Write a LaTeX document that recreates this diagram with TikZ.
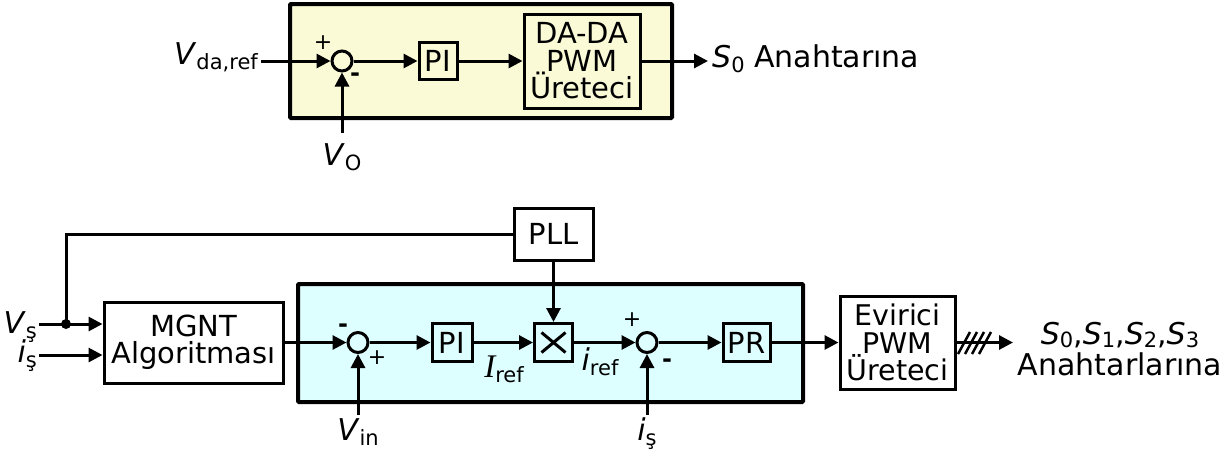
\documentclass[tikz,border=0pt]{standalone}
\usepackage{fontspec}
\setmainfont{DejaVu Sans}
\newfontfamily\seriffam{Liberation Serif}
\usetikzlibrary{arrows.meta,calc}
\definecolor{yel}{RGB}{250,250,215}
\definecolor{cyn}{RGB}{222,255,255}
\newcommand\myfs[1]{\fontsize{#1}{#1}\selectfont}
\newcommand\lowsub[1]{\raisebox{-5pt}{\myfs{21}#1}}
\newcommand\lowsubs[1]{\raisebox{-3pt}{\myfs{21}#1}}
\begin{document}
\begin{tikzpicture}[x=1pt,y=-1pt,
 arr/.style={line width=3pt,-{Triangle[length=14pt,width=14pt]}},
 ln/.style={line width=3pt},
 blk/.style={draw,line width=3pt,inner sep=0pt,align=center},
 cont/.style={draw,line width=4pt,rounded corners=1pt,inner sep=0pt},
 sumc/.style={draw,circle,line width=3pt,minimum size=20pt,inner sep=0pt},
 txt/.style={inner sep=0pt,font=\myfs{30}},
 sgn/.style={inner sep=0pt,font=\myfs{22}},
 mns/.style={inner sep=0pt,font=\myfs{24}\bfseries}]
\useasboundingbox (0,0) rectangle (1229,456);

% ---------- top loop ----------
\node[cont,fill=yel,minimum width=382pt,minimum height=114pt] (ybox) at (481,61) {};
\node[sumc] (s1) at (342,61) {};
\node[blk,minimum width=38pt,minimum height=37pt,font=\myfs{29}] (pi1) at (438,61) {PI};
\node[blk,minimum width=116pt,minimum height=94pt,font=\fontsize{29}{27.5}\selectfont] (dada) at (582,61) {DA-DA\\PWM\\Üreteci};
\node[txt,anchor=base east] (vda) at (258,64) {\textit{V}\lowsub{da,ref}};
\node[sgn] (p1) at (323,43) {+};
\node[mns] (m1) at (355,77) {-};
\node[txt,anchor=base] (vo) at (342,165) {\textit{V}\lowsub{O}};
\coordinate (votop) at (342,133);
\node[txt,anchor=base west] (s0) at (712,67) {\textit{S}\lowsub{0} Anahtarına};
\coordinate (s0tip) at (708,61);

\draw[arr] ([xshift=3pt]vda.east |- s1) -- (s1.west);
\draw[arr] (votop) -- (s1.south);
\draw[arr] (s1) -- (pi1);
\draw[arr] (pi1) -- (dada);
\draw[arr] (dada.east) -- (s0tip);

% ---------- bottom loop ----------
\node[cont,fill=cyn,minimum width=505pt,minimum height=118pt] (cbox) at (550.5,343) {};
\node[blk,fill=white,minimum width=79pt,minimum height=52pt,font=\myfs{29}] (pll) at (553.5,234) {PLL};
\node[blk,fill=white,minimum width=179pt,minimum height=81pt,font=\fontsize{29}{27}\selectfont] (mgnt) at (193.5,342.5) {MGNT\\Algoritması};
\node[sumc] (s2) at (358,342.5) {};
\node[blk,minimum width=40pt,minimum height=38pt,font=\myfs{29}] (pi2) at (452,342.5) {PI};
\node[blk,minimum width=38pt,minimum height=38pt,
  path picture={\draw[line width=3pt]
    ([shift={(7pt,-9pt)}]path picture bounding box.north west) --
    ([shift={(-7pt,9pt)}]path picture bounding box.south east)
    ([shift={(-7pt,-9pt)}]path picture bounding box.north east) --
    ([shift={(7pt,9pt)}]path picture bounding box.south west);}] (mul) at (553.5,342.5) {};
\node[sumc] (s3) at (647,342.5) {};
\node[blk,minimum width=47pt,minimum height=38pt,font=\myfs{29}] (pr) at (746.5,342.5) {PR};
\node[blk,fill=white,minimum width=115pt,minimum height=93pt,font=\fontsize{28.5}{27.5}\selectfont] (evr) at (897.5,342.5) {Evirici\\PWM\\Üreteci};

\node[txt,anchor=base east] (vs) at (37,333) {\textit{V}\lowsub{ş}};
\node[txt,anchor=base east] (is) at (37,362) {\textit{i}\lowsub{ş}};
\coordinate (vsin) at (39,324);
\coordinate (isin) at (39,355);
\coordinate (jn) at (66,324);

\node[mns] (m2) at (343,328) {-};
\node[sgn] (p2) at (377,358) {+};
\node[sgn] (p3) at (632,320) {+};
\node[mns] (m3) at (667,363) {-};

\node[txt,anchor=base] (Iref) at (504,377) {{\seriffam\itshape\fontsize{33}{33}\selectfont I}\lowsub{ref}};
\node[txt,anchor=base] (iref) at (600,370) {\textit{i}\lowsub{ref}};
\node[txt,anchor=base] (vin) at (358,440) {\textit{V}\lowsub{in}};
\node[txt,anchor=base] (isb) at (647,440) {\textit{i}\lowsub{ş}};
\coordinate (vint) at (358,415);
\coordinate (ist) at (647,415);
\coordinate (outtip) at (1013,342.5);
\node[txt,anchor=base] (sout1) at (1120,344) {\textit{S}\lowsubs{0},\textit{S}\lowsubs{1},\textit{S}\lowsubs{2},\textit{S}\lowsubs{3}};
\node[txt,anchor=base] (sout2) at (1120,375) {Anahtarlarına};

\draw[ln] (pll.west) -- (pll.west -| jn) -- (jn);
\fill (jn) circle (5pt);
\draw[arr] (vsin) -- (vsin -| mgnt.west);
\draw[arr] (isin) -- (isin -| mgnt.west);
\draw[arr] (mgnt.east |- s2) -- (s2.west);
\draw[arr] (s2) -- (pi2);
\draw[arr] (pi2) -- (mul);
\draw[arr] (mul) -- (s3);
\draw[arr] (s3) -- (pr);
\draw[arr] (pr) -- (evr);
\draw[arr] (pll) -- (mul);
\draw[arr] (vint) -- (s2.south);
\draw[arr] (ist) -- (s3.south);
\draw[arr] (evr.east) -- (outtip);
\foreach \k in {0,1,2,3} \draw[line width=2.5pt] (958+7*\k,354) -- (970+7*\k,332);
\end{tikzpicture}
\end{document}
